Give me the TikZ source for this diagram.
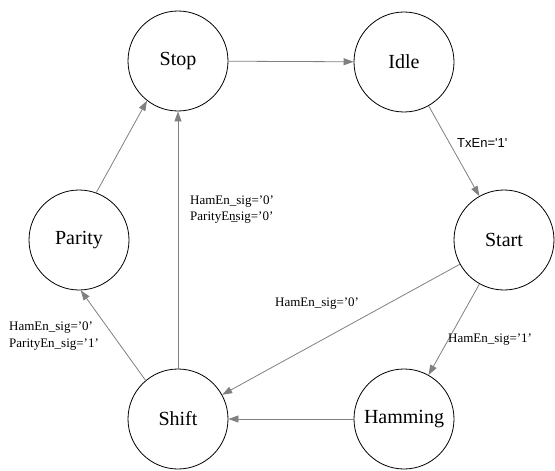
\documentclass[tikz,border=0pt]{standalone}
\usepackage{fontspec}
\setmainfont{Liberation Serif}
\newfontfamily\arialfont{Liberation Sans}
\usetikzlibrary{arrows.meta}
\definecolor{edgegray}{HTML}{808080}
\tikzset{
  state/.style={circle, draw=black, line width=0.8pt, minimum size=100pt, inner sep=0pt, font=\fontsize{20}{24}\selectfont},
  trans/.style={draw=edgegray, line width=0.8pt, -{Triangle[length=10pt,width=7pt]}},
  lab/.style={inner sep=0pt, anchor=west, align=left, font=\fontsize{13}{16.5}\selectfont},
  sanslab/.style={inner sep=0pt, anchor=west, font=\arialfont\fontsize{13}{16}\selectfont}
}
\begin{document}
\begin{tikzpicture}[x=1pt,y=-1pt]
\useasboundingbox (0,0) rectangle (555,471);
\node[state] (stop) at (178,61) {Stop};
\node[state] (idle) at (404,62) {Idle};
\node[state] (start) at (504,240) {Start};
\node[state] (parity) at (79,240) {Parity};
\node[state] (shift) at (178,419) {Shift};
\node[state] (hamming) at (404,419) {Hamming};

\draw[trans] (stop) -- (idle);
\draw[trans] (idle) -- (start);
\draw[trans] (start) -- (hamming);
\draw[trans] (start) -- (shift);
\draw[trans] (hamming) -- (shift);
\draw[trans] (shift) -- (stop);
\draw[trans] (shift.130) -- (parity.-88);
\draw[trans] (parity.70) -- (stop.232);

\node[sanslab] (ltx) at (457,143) {TxEn='1'};
\node[lab] (lh1) at (448,340) {HamEn\_sig='1'};
\node[lab] (lh0) at (275,304) {HamEn\_sig='0'};
\node[lab] (lss) at (190,209.5) {HamEn\_sig='0'\\ParityEn\rlap{\kern-0.35em\_}sig='0'};
\node[lab] (lsp) at (9,336) {HamEn\_sig='0'\\ParityEn\_sig='1'};
\end{tikzpicture}
\end{document}
